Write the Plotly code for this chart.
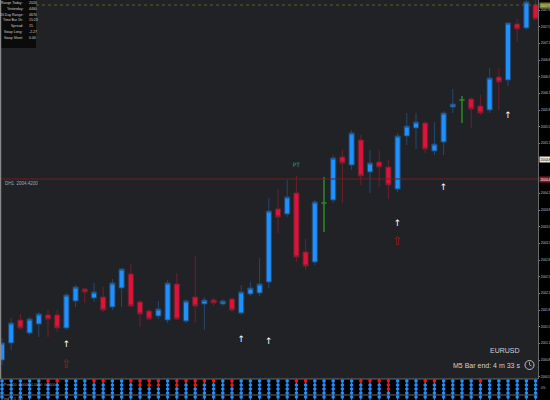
import numpy as np
import plotly.graph_objects as go

# ---------------- data (M5 EURUSD style chart) ----------------
bar_index = list(range(59))
open_ = [2000.80, 2001.14, 2001.60, 2001.34, 2001.52, 2001.70, 2001.70, 2001.44, 2001.98, 2002.22,
         2002.04, 2002.06, 2001.86, 2002.24, 2002.52, 2001.96, 2001.78, 2001.68, 2001.60, 2002.32,
         2001.58, 2002.06, 2001.92, 2002.00, 2001.92, 2002.02, 2001.74, 2002.12, 2002.14, 2002.36,
         2003.82, 2003.72, 2004.14, 2002.96, 2002.76, 2003.94, 2004.00, 2004.86, 2004.70, 2005.20,
         2004.56, 2004.76, 2004.66, 2004.22, 2005.28, 2005.44, 2005.54, 2004.98, 2005.16, 2005.86,
         2006.00, 2006.02, 2005.88, 2005.80, 2006.46, 2006.40, 2007.52, 2007.44, 2007.90]
close = [2001.14, 2001.54, 2001.44, 2001.62, 2001.72, 2001.62, 2001.44, 2002.10, 2002.26, 2002.16,
         2002.16, 2001.80, 2002.34, 2002.62, 2001.88, 2001.72, 2001.62, 2001.82, 2002.34, 2001.62,
         2001.98, 2001.88, 2002.00, 2001.94, 2001.98, 2001.80, 2002.16, 2002.24, 2002.32, 2003.78,
         2003.66, 2004.06, 2002.86, 2002.68, 2003.96, 2003.94, 2004.84, 2004.74, 2005.34, 2004.48,
         2004.74, 2004.66, 2004.30, 2005.28, 2005.48, 2005.56, 2005.02, 2005.12, 2005.74, 2005.92,
         2006.00, 2005.82, 2005.74, 2006.44, 2006.36, 2007.54, 2007.42, 2007.96, 2007.62]
high = [2001.24, 2001.64, 2001.72, 2001.66, 2001.76, 2001.80, 2001.80, 2002.14, 2002.30, 2002.24,
        2002.34, 2002.26, 2002.42, 2002.64, 2002.72, 2002.00, 2001.82, 2001.98, 2002.40, 2002.54,
        2002.02, 2002.88, 2002.06, 2002.04, 2002.02, 2002.06, 2002.30, 2002.36, 2002.84, 2004.04,
        2004.22, 2004.40, 2004.48, 2003.22, 2004.00, 2004.46, 2004.90, 2005.00, 2005.40, 2005.30,
        2005.00, 2005.00, 2004.80, 2005.34, 2005.74, 2005.74, 2005.58, 2005.56, 2005.78, 2006.22,
        2006.08, 2006.06, 2006.10, 2006.64, 2006.64, 2007.56, 2007.62, 2008.00, 2008.00]
low = [2000.70, 2001.00, 2001.40, 2001.30, 2001.26, 2001.26, 2001.36, 2001.40, 2001.86, 2001.94,
       2001.96, 2001.76, 2001.80, 2001.86, 2001.86, 2001.46, 2001.60, 2001.62, 2001.54, 2001.60,
       2001.54, 2001.54, 2001.40, 2001.88, 2001.88, 2001.76, 2001.70, 2002.08, 2002.08, 2002.24,
       2003.34, 2003.66, 2002.76, 2002.60, 2002.70, 2003.36, 2003.94, 2003.94, 2004.60, 2004.30,
       2004.14, 2004.26, 2004.02, 2004.16, 2005.10, 2005.02, 2004.94, 2004.90, 2004.90, 2005.74,
       2005.54, 2005.44, 2005.70, 2005.74, 2005.80, 2006.28, 2007.16, 2007.40, 2007.62]

# signal arrows
up_idx = [7, 26, 29, 43, 48, 55]
up_price = [2001.10, 2001.20, 2001.16, 2003.52, 2004.24, 2005.68]
hollow_idx = [7, 43]
hollow_price = [2000.70, 2003.16]
pt_idx = [32]
pt_price = [2004.70]

# levels
level_dotted = 2007.90
level_dh1 = 2004.42
level_cross = 2004.82

# bottom indicator: number of red dots (from top) per bar
red_count = [0] * 59
for k, v in {5: 1, 6: 1, 10: 1, 11: 1, 14: 1, 15: 2, 16: 2, 17: 2, 19: 2, 20: 1, 21: 2, 22: 1,
             23: 1, 25: 2, 32: 1, 33: 1, 39: 1, 40: 1, 41: 1, 42: 3, 46: 1, 47: 1, 52: 1}.items():
    red_count[k] = v
dot_levels = [19, 15, 11, 7, 3]

info_labels = ["Range Today:", "Yesterday:", "20 Day Range:", "Time Bar 1h:", "Spread:", "Swap Long:", "Swap Short:"]
info_values = ["2020", "4460", "4670", "15:23", "15", "-2.27", "0.00"]

# price tick labels on the right scale
tick0_price = 2007.80
tick_step = 1 / 3

# ---------------- figure ----------------
W_PLOT = 538.0
H = 400.0


def pxx(x):
    return x / W_PLOT


def pxy(y):
    return 1 - y / H


idx = np.array(bar_index)
o = np.array(open_)
c = np.array(close)
h = np.array(high)
l = np.array(low)
m = o != c

fig = go.Figure()
fig.add_trace(go.Candlestick(
    x=idx[m], open=o[m], high=h[m], low=l[m], close=c[m],
    increasing=dict(line=dict(color="#25486f", width=1), fillcolor="#1e90ff"),
    decreasing=dict(line=dict(color="#6e1f2d", width=1), fillcolor="#dc143c"),
    whiskerwidth=0, showlegend=False, hoverinfo="skip"))
fig.add_trace(go.Candlestick(
    x=idx[~m], open=o[~m], high=h[~m], low=l[~m], close=c[~m],
    increasing=dict(line=dict(color="#2a8a2a", width=1.5), fillcolor="#2a8a2a"),
    decreasing=dict(line=dict(color="#2a8a2a", width=1.5), fillcolor="#2a8a2a"),
    whiskerwidth=0, showlegend=False, hoverinfo="skip"))

fig.add_trace(go.Scatter(x=up_idx, y=up_price, mode="text", text=["↑"] * len(up_idx),
                         textfont=dict(family="DejaVu Sans", size=9, color="#ffffff"),
                         showlegend=False, hoverinfo="skip"))
fig.add_trace(go.Scatter(x=hollow_idx, y=hollow_price, mode="text", text=["⇧"] * len(hollow_idx),
                         textfont=dict(family="DejaVu Sans", size=12, color="#a3191c"),
                         showlegend=False, hoverinfo="skip"))
fig.add_trace(go.Scatter(x=pt_idx, y=pt_price, mode="text", text=["PT"],
                         textfont=dict(family="DejaVu Sans", size=6, color="#2a9d8f"),
                         showlegend=False, hoverinfo="skip"))

# bottom indicator panel
lx, ly = [], []
for i in bar_index:
    lx += [i, i, None]
    ly += [0, 22, None]
fig.add_trace(go.Scatter(x=lx, y=ly, mode="lines", line=dict(color="#1e7fe0", width=1),
                         xaxis="x", yaxis="y2", showlegend=False, hoverinfo="skip"))
dx, dy, dcol = [], [], []
for i in bar_index:
    for j, lev in enumerate(dot_levels):
        dx.append(i)
        dy.append(lev)
        dcol.append("#ff1010" if j < red_count[i] else "#1e90ff")
fig.add_trace(go.Scatter(x=dx, y=dy, mode="markers", marker=dict(size=3.6, color=dcol),
                         xaxis="x", yaxis="y2", showlegend=False, hoverinfo="skip"))

shapes = [
    dict(type="rect", xref="paper", yref="paper", x0=0, x1=1, y0=0, y1=pxy(379),
         fillcolor="#000000", line=dict(width=0), layer="below"),
    dict(type="line", xref="paper", yref="paper", x0=0, x1=1, y0=pxy(379), y1=pxy(379),
         line=dict(color="#6a6a6a", width=1)),
    dict(type="line", xref="paper", yref="paper", x0=0, x1=1, y0=pxy(395), y1=pxy(395),
         line=dict(color="#6a6a6a", width=1)),
    dict(type="line", xref="paper", yref="y", x0=0, x1=1, y0=level_dotted, y1=level_dotted,
         line=dict(color="#5e5e2c", width=1, dash="dot")),
    dict(type="line", xref="paper", yref="y", x0=0, x1=1, y0=level_dh1, y1=level_dh1,
         line=dict(color="#6e1f1f", width=1)),
    dict(type="rect", xref="paper", yref="paper", x0=0, x1=pxx(36), y0=pxy(48), y1=1,
         fillcolor="#0b0b0b", line=dict(width=0), layer="above"),
    dict(type="line", xref="paper", yref="paper", x0=pxx(0.6), x1=pxx(0.6), y0=pxy(379), y1=1,
         line=dict(color="#8a8a8a", width=1.2)),
    dict(type="circle", xref="paper", yref="paper", x0=pxx(525), x1=pxx(534), y0=pxy(369.5), y1=pxy(360.5),
         line=dict(color="#bdbdbd", width=1)),
    dict(type="line", xref="paper", yref="paper", x0=pxx(529.5), x1=pxx(529.5), y0=pxy(365), y1=pxy(361.8),
         line=dict(color="#bdbdbd", width=0.8)),
    dict(type="line", xref="paper", yref="paper", x0=pxx(529.5), x1=pxx(531.5), y0=pxy(365), y1=pxy(366),
         line=dict(color="#bdbdbd", width=0.8)),
]

ann = []
for k, (lab, val) in enumerate(zip(info_labels, info_values)):
    yy = 3 + k * 5.8
    ann.append(dict(xref="paper", yref="paper", x=pxx(25), y=pxy(yy), text=lab, showarrow=False,
                    xanchor="right", yanchor="middle",
                    font=dict(family="Liberation Sans Narrow, Liberation Sans", size=3.5, color="#cfcfcf")))
    ann.append(dict(xref="paper", yref="paper", x=pxx(26.5), y=pxy(yy), text=val, showarrow=False,
                    xanchor="left", yanchor="middle",
                    font=dict(family="Liberation Sans Narrow, Liberation Sans", size=3.5, color="#cfcfcf")))

box_font = dict(family="Liberation Sans", size=3.2)
ann += [
    dict(xref="paper", yref="paper", x=pxx(3), y=pxy(183), text="DH1  %.4f" % level_dh1, showarrow=False,
         xanchor="left", yanchor="middle", font=dict(family="Liberation Sans", size=4.5, color="#a8a8a8")),
    dict(xref="paper", yref="paper", x=pxx(522), y=pxy(350), text="EURUSD", showarrow=False,
         xanchor="right", yanchor="middle", font=dict(family="Liberation Sans", size=7, color="#d0d0d0")),
    dict(xref="paper", yref="paper", x=pxx(522), y=pxy(365), text="M5 Bar end: 4 m 33 s", showarrow=False,
         xanchor="right", yanchor="middle", font=dict(family="Liberation Sans", size=7, color="#d0d0d0")),
    dict(xref="paper", yref="paper", x=pxx(2), y=pxy(385), text="Pres 50  0.0000  0.0000  0.0000", showarrow=False,
         xanchor="left", yanchor="middle", font=dict(family="Liberation Sans", size=3.6, color="#9a9a9a")),
    dict(xref="paper", yref="paper", x=pxx(2), y=pxy(398.5), text="Ind  0.1  0.2", showarrow=False,
         xanchor="left", yanchor="middle", font=dict(family="Liberation Sans", size=3.6, color="#9a9a9a")),
    dict(xref="paper", yref="y", x=pxx(538.5), y=level_dotted, text="%.1f" % level_dotted, showarrow=False,
         xanchor="left", yanchor="middle", bgcolor="#77771f", borderpad=0.6,
         font=dict(box_font, color="#f0f0b0")),
    dict(xref="paper", yref="y", x=pxx(538.5), y=level_cross, text="%.1f" % level_cross, showarrow=False,
         xanchor="left", yanchor="middle", bgcolor="#e6e6e6", borderpad=0.6,
         font=dict(box_font, color="#000000")),
    dict(xref="paper", yref="y", x=pxx(538.5), y=level_dh1, text="%.1f" % level_dh1, showarrow=False,
         xanchor="left", yanchor="middle", bgcolor="#8a1a1a", borderpad=0.6,
         font=dict(box_font, color="#ffffff")),
    dict(xref="paper", yref="paper", x=pxx(539), y=pxy(388), text="0%", showarrow=False,
         xanchor="left", yanchor="middle", font=dict(family="Liberation Sans", size=3.2, color="#bbbbbb")),
]

# tick values, skipping those hidden behind the level boxes
tickvals = []
t = tick0_price
while t > 2000.42:
    if min(abs(t - level_dotted), abs(t - level_cross), abs(t - level_dh1)) > 0.08:
        tickvals.append(round(t, 4))
    t -= tick_step
ticktext = ["%.1f" % v for v in tickvals]

fig.update_layout(
    width=550, height=400,
    margin=dict(l=0, r=12, t=0, b=0, autoexpand=False),
    paper_bgcolor="#000000", plot_bgcolor="#202226",
    showlegend=False, boxgap=0.2, hovermode=False,
    xaxis=dict(range=[-0.217, 58.26], visible=False, rangeslider=dict(visible=False),
               fixedrange=True, anchor="y", automargin=False),
    yaxis=dict(domain=[1 - 379 / H, 1], range=[2000.42, 2008.0], side="right",
               tickmode="array", tickvals=tickvals, ticktext=ticktext,
               ticks="outside", ticklen=1, tickcolor="#888888",
               tickfont=dict(family="Liberation Sans", size=3.2, color="#c0c0c0"),
               showgrid=False, zeroline=False, showline=True, linecolor="#6a6a6a",
               fixedrange=True, automargin=False),
    yaxis2=dict(domain=[0, 1 - 379 / H], range=[0, 21], visible=False, fixedrange=True, anchor="x"),
    shapes=shapes, annotations=ann,
)

fig.write_html("out.html")
